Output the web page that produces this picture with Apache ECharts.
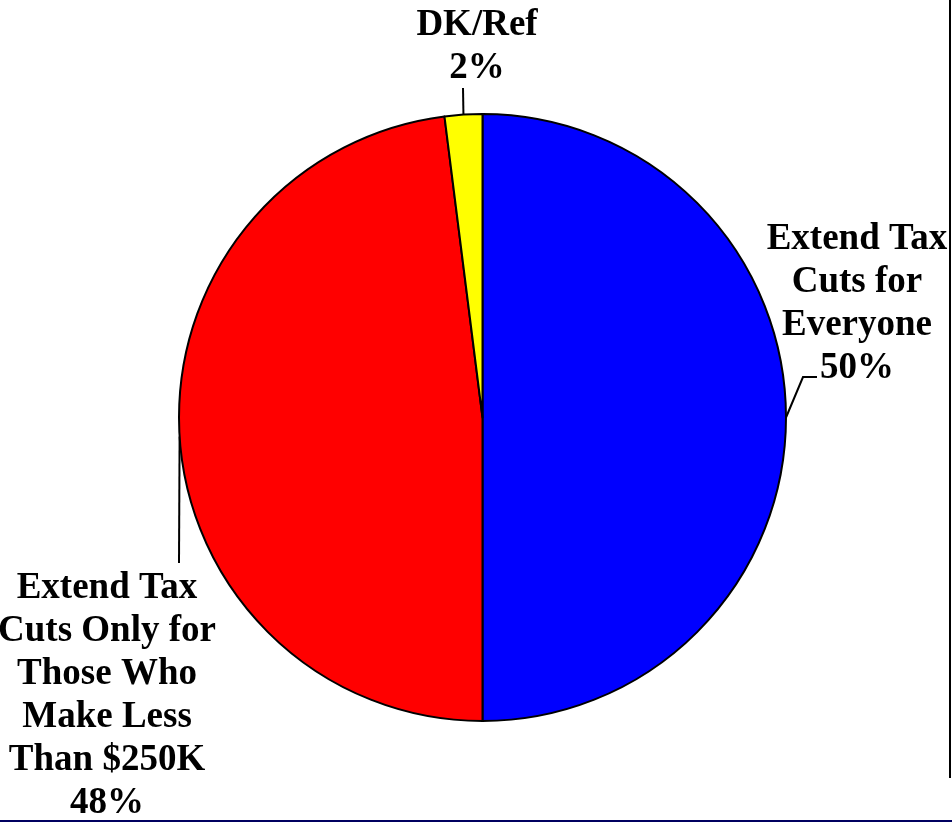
<!DOCTYPE html>
<html>
<head>
<meta charset="utf-8">
<title>Tax Cuts Opinion</title>
<script src="https://cdn.jsdelivr.net/npm/echarts@6/dist/echarts.min.js"></script>
<style>
  html, body { margin: 0; padding: 0; background: #fff; }
  #chart { width: 952px; height: 822px; }
</style>
</head>
<body>
<div id="chart"></div>
<script>
// Survey answers, drawn clockwise from 12 o'clock
const categories = [
  'Extend Tax\nCuts for\nEveryone',
  'Extend Tax\nCuts Only for\nThose Who\nMake Less\nThan $250K',
  'DK/Ref'
];
const values = [50, 48, 2];
const colors = ['#0000FF', '#FF0000', '#FFFF00'];

// Where each label block sits (top-centre) and the bend of its leader line
const labelSpots = [
  { x: 857, y: 218, bend: [[803, 377], [817, 377]] },
  { x: 107, y: 567, bend: [[179, 563], [179, 563]] },
  { x: 477, y: 4,   bend: [[463, 88], [463, 88]] }
];

const chart = echarts.init(document.getElementById('chart'), null, { renderer: 'canvas' });

chart.setOption({
  backgroundColor: '#ffffff',
  animation: false,
  series: [{
    type: 'pie',
    center: [482.5, 417.5],
    radius: [0, 303.5],
    startAngle: 90,
    clockwise: true,
    avoidLabelOverlap: false,
    data: categories.map((name, i) => ({
      name: name,
      value: values[i],
      itemStyle: { color: colors[i] }
    })),
    itemStyle: { borderColor: '#000', borderWidth: 2 },
    label: {
      show: true,
      formatter: '{b}\n{d}%',
      fontFamily: '"Liberation Serif", "Times New Roman", serif',
      fontWeight: 'bold',
      fontSize: 37,
      lineHeight: 43,
      color: '#000',
      align: 'center'
    },
    labelLine: {
      show: true,
      lineStyle: { color: '#000', width: 2 }
    },
    emphasis: { disabled: true },
    labelLayout: function (params) {
      const spot = labelSpots[params.dataIndex];
      const start = params.labelLinePoints ? params.labelLinePoints[0] : spot.bend[0];
      return {
        x: spot.x,
        y: spot.y,
        align: 'center',
        verticalAlign: 'top',
        labelLinePoints: [start, spot.bend[0], spot.bend[1]]
      };
    }
  }],
  graphic: [
    {
      type: 'line',
      shape: { x1: 950, y1: 0, x2: 950, y2: 778 },
      style: { stroke: '#000', lineWidth: 2 }
    },
    {
      type: 'line',
      shape: { x1: 0, y1: 821, x2: 952, y2: 821 },
      style: { stroke: '#000060', lineWidth: 2 }
    }
  ]
});
</script>
</body>
</html>
